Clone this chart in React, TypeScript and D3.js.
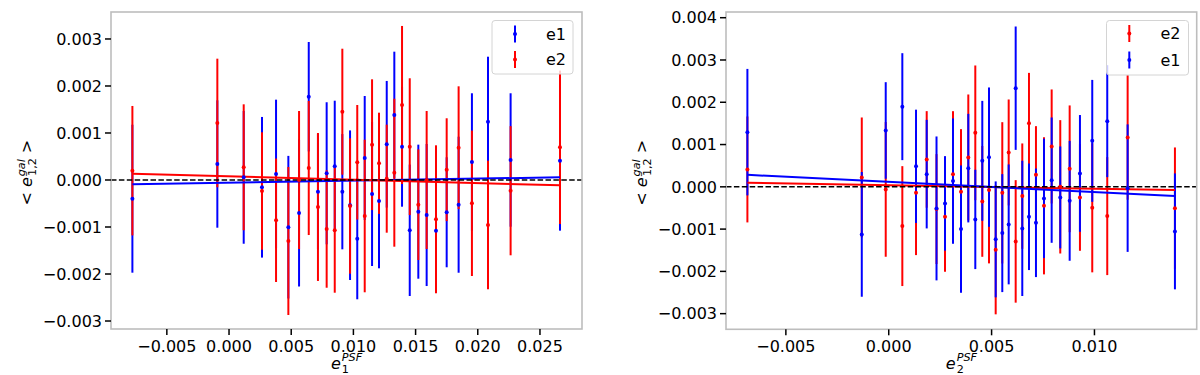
import React from 'react';
import * as d3 from 'd3';

// ---------- data (y values & errors in units of 1e-3) ----------
const leftX = [-0.00777, -0.00094, 0.00118, 0.00265, 0.00378, 0.00477, 0.00563, 0.00641, 0.00715, 0.00785, 0.0085, 0.00911, 0.00973, 0.01031, 0.01091, 0.0115, 0.01206, 0.01268, 0.01329, 0.01391, 0.01453, 0.01522, 0.01589, 0.01664, 0.0175, 0.01846, 0.01953, 0.02082, 0.02264, 0.02661];
const leftE1 = [-0.398, 0.34, 0.057, -0.155, 0.128, -1.004, -0.702, 1.772, -0.249, 0.143, 0.291, -0.249, -0.536, -1.249, 0.468, -0.298, -0.447, 0.76, 1.383, 0.709, -1.07, -0.674, -0.745, -1.079, -0.687, -0.526, 0.383, 1.24, 0.426, 0.411];
const leftE1Err = [1.574, 1.355, 1.413, 1.496, 1.581, 1.517, 1.564, 1.164, 1.234, 1.511, 1.396, 1.226, 1.591, 1.289, 1.319, 1.532, 1.432, 1.347, 1.347, 1.277, 1.398, 1.426, 1.511, 1.277, 1.17, 1.447, 1.462, 1.383, 1.419, 1.489];
const leftE2 = [0.198, 1.213, 0.27, -0.234, -0.857, -1.298, 0.0, 0.255, -0.574, -1.043, -1.07, 1.453, -0.553, 0.377, -0.766, 0.751, 0.355, 0.028, 0.155, 1.596, 0.709, -0.526, 0.0, -0.836, 0.219, 0.687, -0.496, -0.957, -0.228, 0.696];
const leftE2Err = [1.377, 1.368, 1.34, 1.249, 1.313, 1.574, 1.468, 1.426, 1.574, 1.249, 1.328, 1.34, 1.44, 1.219, 1.623, 1.391, 1.077, 1.149, 1.574, 1.681, 1.455, 1.177, 1.468, 1.574, 1.094, 1.306, 1.547, 1.368, 1.374, 1.632];
const leftFitE1 = [-0.0578, 4.33]; // [intercept (1e-3), slope (1e-3 per unit)]
const leftFitE2 = [0.0782, -7.18];

const rightX = [-0.00687, -0.00131, -0.000146, 0.000661, 0.001327, 0.001846, 0.002323, 0.002736, 0.003124, 0.003513, 0.003868, 0.004208, 0.004548, 0.004874, 0.005199, 0.00552, 0.005831, 0.006171, 0.006492, 0.006817, 0.007157, 0.007546, 0.00792, 0.008338, 0.008795, 0.009295, 0.009893, 0.010622, 0.011613, 0.013912];
const rightE1 = [1.293, -1.125, 1.333, 1.896, 0.485, 0.3, -0.511, -0.392, 0.135, -1.0, 0.442, -0.771, 0.615, 0.702, -1.243, -1.095, -0.889, 2.333, -0.983, -0.709, -0.851, -0.274, 0.158, -0.251, -0.331, 0.317, 1.087, 1.553, -0.031, -1.054];
const rightE1Err = [1.496, 1.475, 1.142, 1.265, 1.34, 1.284, 1.702, 1.118, 1.482, 1.506, 1.284, 1.175, 1.418, 1.648, 1.371, 1.395, 1.418, 1.459, 1.6, 1.26, 1.284, 1.411, 1.482, 1.206, 1.418, 1.381, 1.442, 1.324, 1.508, 1.371];
const rightE2 = [0.411, 0.222, -0.061, -0.929, -0.142, 0.648, -0.527, -0.709, 0.3, -0.118, 0.695, 1.277, -0.345, -0.078, -1.489, -0.142, 0.813, -1.291, -0.22, 1.506, 0.284, -0.449, 0.955, 0.0, 0.426, -0.251, -0.496, -0.693, 1.168, -0.504];
const rightE2Err = [1.253, 1.418, 1.593, 1.418, 1.473, 1.142, 1.3, 1.3, 1.489, 1.482, 1.489, 1.593, 1.31, 1.733, 1.527, 1.671, 1.253, 1.449, 1.246, 1.189, 1.151, 1.622, 1.348, 1.577, 1.499, 1.262, 1.527, 1.395, 1.473, 1.435];
const rightFitE1 = [0.1174, -24.25];
const rightFitE2 = [0.0375, -8.305];

const leftXTicks = [-0.005, 0, 0.005, 0.01, 0.015, 0.02, 0.025];
const leftYTicks = [-3, -2, -1, 0, 1, 2, 3];
const rightXTicks = [-0.005, 0, 0.005, 0.01];
const rightYTicks = [-3, -2, -1, 0, 1, 2, 3, 4];

const BLUE = '#0000ff';
const RED = '#ff0000';
const FONT = 'DejaVu Sans, sans-serif';

type Series = { name: string; color: string; y: number[]; err: number[]; fit: number[] };

type PanelProps = {
  x0: number; x1: number; y0: number; y1: number;
  xDom: [number, number]; yDom: [number, number];
  xs: number[];
  drawOrder: Series[];
  legendOrder: Series[];
  xTicks: number[]; yTicks: number[];
  sub: string;
  yLabelX: number;
  legend: { x: number; y: number; w: number; h: number; mx: number; tx: number; rows: number[] };
};

const fmt = (v: number) => {
  const s = d3.format('.3f')(v);
  return s.replace('-', '\u2212').replace('\u22120.000', '0.000');
};

function Panel(p: PanelProps) {
  const xs = d3.scaleLinear().domain(p.xDom).range([p.x0, p.x1]);
  const ys = d3.scaleLinear().domain(p.yDom).range([p.y1, p.y0]);
  const xMin = d3.min(p.xs) as number;
  const xMax = d3.max(p.xs) as number;
  const line = d3.line<number>().x((x) => xs(x));
  const cy = (p.y0 + p.y1) / 2;
  const cx = (p.x0 + p.x1) / 2;
  return (
    <g>
      {p.drawOrder.map((s) => (
        <g key={'bars' + s.name}>
          {p.xs.map((x, i) => (
            <line key={i} x1={xs(x)} x2={xs(x)} y1={ys(s.y[i] - s.err[i])} y2={ys(s.y[i] + s.err[i])} stroke={s.color} strokeWidth={2} />
          ))}
        </g>
      ))}
      {p.drawOrder.map((s) => (
        <path key={'fit' + s.name}
          d={line.y((x) => ys(s.fit[0] + s.fit[1] * x))([xMin, xMax]) as string}
          stroke={s.color} strokeWidth={2} fill="none" />
      ))}
      <line x1={p.x0} x2={p.x1} y1={ys(0)} y2={ys(0)} stroke="#000" strokeWidth={1.6} strokeDasharray="5.5 2.4" />
      {p.drawOrder.map((s) => (
        <g key={'dots' + s.name}>
          {p.xs.map((x, i) => (
            <circle key={i} cx={xs(x)} cy={ys(s.y[i])} r={2} fill={s.color} />
          ))}
        </g>
      ))}
      {/* frame */}
      <rect x={p.x0} y={p.y0} width={p.x1 - p.x0} height={p.y1 - p.y0} fill="none" stroke="#bdbdbd" strokeWidth={1.6} />
      {/* x ticks */}
      {p.xTicks.map((t) => (
        <g key={'xt' + t}>
          <line x1={xs(t)} x2={xs(t)} y1={p.y1} y2={p.y1 + 6} stroke="#000" strokeWidth={1.5} />
          <text x={xs(t)} y={p.y1 + 23} fontSize={16} fontFamily={FONT} textAnchor="middle">{fmt(t)}</text>
        </g>
      ))}
      {p.yTicks.map((t) => (
        <g key={'yt' + t}>
          <line x1={p.x0 - 6} x2={p.x0} y1={ys(t)} y2={ys(t)} stroke="#000" strokeWidth={1.5} />
          <text x={p.x0 - 9} y={ys(t)} dy="0.36em" fontSize={16} fontFamily={FONT} textAnchor="end">{fmt(t / 1000)}</text>
        </g>
      ))}
      {/* y label */}
      <text transform={`translate(${p.yLabelX},${cy}) rotate(-90)`} fontSize={16} fontFamily={FONT}>
        <tspan x={-35}>{'<'}</tspan>
        <tspan dx={5} fontStyle="italic">e</tspan>
        <tspan dx={1} dy={-7} fontSize={11.2} fontStyle="italic">gal</tspan>
        <tspan dx={-16.8} dy={11} fontSize={11.2}>1,2</tspan>
        <tspan dx={5} dy={-4}>{'>'}</tspan>
      </text>
      {/* x label */}
      <text x={cx - 15.5} y={369} fontSize={16} fontFamily={FONT}>
        <tspan fontStyle="italic">e</tspan>
        <tspan dx={1} dy={-8} fontSize={11.2} fontStyle="italic">PSF</tspan>
        <tspan dx={-20.3} dy={12} fontSize={11.2}>{p.sub}</tspan>
      </text>
      {/* legend */}
      <rect x={p.legend.x} y={p.legend.y} width={p.legend.w} height={p.legend.h} rx={3} fill="#fff" fillOpacity={0.8} stroke="#d4d4d4" strokeWidth={1} />
      {p.legendOrder.map((s, i) => (
        <g key={'lg' + s.name}>
          <line x1={p.legend.mx} x2={p.legend.mx} y1={p.legend.rows[i] - 8.5} y2={p.legend.rows[i] + 8.5} stroke={s.color} strokeWidth={2} />
          <circle cx={p.legend.mx} cy={p.legend.rows[i]} r={2} fill={s.color} />
          <text x={p.legend.tx} y={p.legend.rows[i]} dy="0.36em" fontSize={16} fontFamily={FONT}>{s.name}</text>
        </g>
      ))}
    </g>
  );
}

export default function App() {
  const lE1: Series = { name: 'e1', color: BLUE, y: leftE1, err: leftE1Err, fit: leftFitE1 };
  const lE2: Series = { name: 'e2', color: RED, y: leftE2, err: leftE2Err, fit: leftFitE2 };
  const rE1: Series = { name: 'e1', color: BLUE, y: rightE1, err: rightE1Err, fit: rightFitE1 };
  const rE2: Series = { name: 'e2', color: RED, y: rightE2, err: rightE2Err, fit: rightFitE2 };
  return (
    <svg width={1200} height={375} style={{ position: 'absolute', left: 0, top: 0, background: '#fff' }}>
      <rect width={1200} height={375} fill="#fff" />
      <Panel x0={111} x1={582} y0={12} y1={329}
        xDom={[-0.00949, 0.02838]} yDom={[-3.17, 3.574]}
        xs={leftX} drawOrder={[lE1, lE2]} legendOrder={[lE1, lE2]}
        xTicks={leftXTicks} yTicks={leftYTicks} sub="1" yLabelX={32}
        legend={{ x: 492, y: 20.5, w: 81, h: 53.5, mx: 515, tx: 546, rows: [34, 59.5] }} />
      <Panel x0={726} x1={1196.7} y0={12} y1={329.3}
        xDom={[-0.00791, 0.01497]} yDom={[-3.37, 4.135]}
        xs={rightX} drawOrder={[rE2, rE1]} legendOrder={[rE2, rE1]}
        xTicks={rightXTicks} yTicks={rightYTicks} sub="2" yLabelX={647}
        legend={{ x: 1106.5, y: 20.5, w: 82, h: 54.5, mx: 1129.3, tx: 1160.5, rows: [33.5, 60] }} />
    </svg>
  );
}
